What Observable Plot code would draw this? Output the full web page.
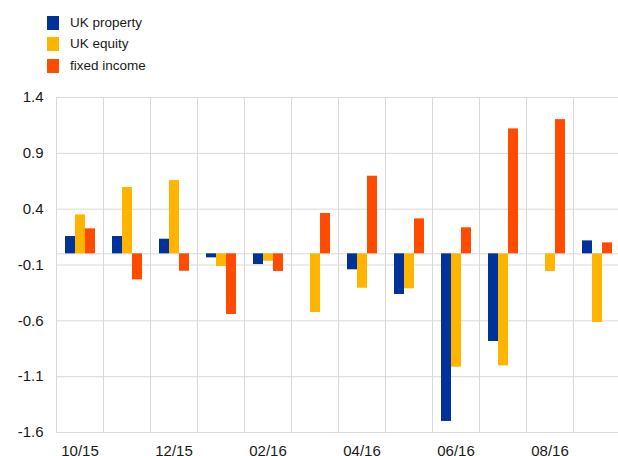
<!DOCTYPE html>
<html>
<head>
<meta charset="utf-8">
<script src="https://cdn.jsdelivr.net/npm/d3@7"></script>
<script src="https://cdn.jsdelivr.net/npm/@observablehq/plot@0.6"></script>
<style>
  body { margin: 0; background: #fff; font-family: "Liberation Sans", Arial, sans-serif; }
  #wrap { width: 618px; height: 456px; overflow: hidden; }
  #legend { position: relative; height: 85px; }
  .item { position: absolute; left: 47px; height: 14px; }
  .sw { position: absolute; left: 0; top: 0; width: 12px; height: 14px; }
  .lab { position: absolute; left: 23px; top: -1px; font-size: 13.5px; color: #1a1a1a; white-space: nowrap; line-height: 16px; }
  svg { display: block; }
</style>
</head>
<body>
<div id="wrap">
  <div id="legend"></div>
  <div id="chart"></div>
</div>
<script>
const months = ["10/15","11/15","12/15","01/16","02/16","03/16","04/16","05/16","06/16","07/16","08/16","09/16"];
const series = ["UK property","UK equity","fixed income"];
const colors = ["#003299","#FFB400","#FF4B00"];
const ukProperty  = [0.155, 0.155, 0.131, -0.036, -0.096, 0.000, -0.143, -0.364, -1.501, -0.785, 0.000, 0.116];
const ukEquity    = [0.349, 0.594, 0.656, -0.114, -0.066, -0.525, -0.308, -0.313, -1.015, -1.003, -0.158, -0.615];
const fixedIncome = [0.224, -0.233, -0.156, -0.543, -0.158, 0.361, 0.695, 0.313, 0.233, 1.119, 1.202, 0.098];
const yTicks = [-1.6, -1.1, -0.6, -0.1, 0.4, 0.9, 1.4];
const xTickLabels = ["10/15","12/15","02/16","04/16","06/16","08/16"];

const seriesValues = [ukProperty, ukEquity, fixedIncome];
const data = [];
months.forEach((m, i) => {
  series.forEach((s, j) => data.push({month: m, series: s, value: seriesValues[j][i]}));
});

// legend
const legend = document.getElementById("legend");
const rowTops = [16, 37, 58.5];
series.forEach((s, j) => {
  const it = document.createElement("div");
  it.className = "item";
  it.style.top = rowTops[j] + "px";
  it.innerHTML = `<div class="sw" style="background:${colors[j]}"></div><div class="lab">${s}</div>`;
  legend.appendChild(it);
});

const grid = "#d9d9d9";
const chart = Plot.plot({
  width: 618,
  height: 371,
  marginLeft: 55,
  marginRight: -3,
  marginTop: 12,
  marginBottom: 24,
  style: {fontFamily: "'Liberation Sans', Arial, sans-serif", fontSize: "15px", color: "#1a1a1a", background: "#fff"},
  fx: {domain: months, padding: 0, label: null},
  x: {domain: series, paddingInner: 0, paddingOuter: 0.72, axis: null},
  y: {domain: [-1.6, 1.4], label: null},
  color: {domain: series, range: colors},
  marks: [
    Plot.ruleY(yTicks, {stroke: grid, strokeWidth: 1}),
    Plot.ruleY([0], {stroke: grid, strokeWidth: 1}),
    Plot.frame({anchor: "left", stroke: grid, strokeWidth: 1}),
    Plot.barY(data, {fx: "month", x: "series", y: "value", fill: "series"}),
    Plot.axisY(yTicks, {tickSize: 0, tickPadding: 13, tickFormat: d => d.toFixed(1), fill: "#1a1a1a"}),
    Plot.axisFx({anchor: "bottom", tickSize: 0, tickPadding: 13, tickFormat: d => xTickLabels.includes(d) ? d : "", fill: "#1a1a1a"})
  ]
});
document.getElementById("chart").appendChild(chart);
</script>
</body>
</html>
